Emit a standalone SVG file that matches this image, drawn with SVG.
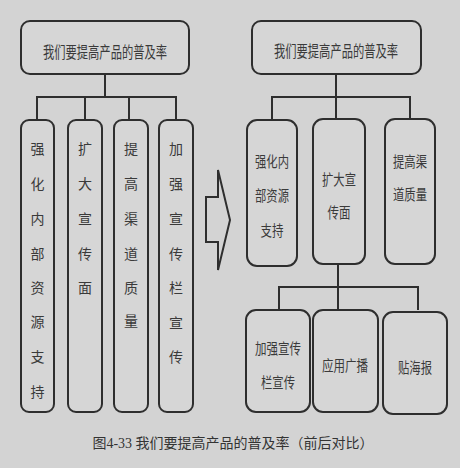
<svg xmlns="http://www.w3.org/2000/svg" width="460" height="468" viewBox="0 0 460 468">
<style>
.bx{fill:#d6d6d6;stroke:#2e2e2e;stroke-width:2}
.ln{fill:none;stroke:#2e2e2e;stroke-width:2}
.t{font-family:"Noto Sans CJK SC","Noto Sans",sans-serif;font-size:14px;fill:#3a3a3a;text-anchor:middle;dominant-baseline:central}
.tt{font-size:16px}
.r{font-size:15px}
.cap{font-family:"Liberation Serif","Noto Sans CJK SC",serif;font-size:14px;fill:#333;text-anchor:middle;dominant-baseline:central}
</style>
<rect width="460" height="468" fill="#d3d3d3"/>
<g id="connectors">
<path class="ln" d="M105 74V97M37 119V97H176V119M85 97V119M129 97V119"/>
<path class="ln" d="M336 74V119M272 119V97H410V119"/>
<path class="ln" d="M338 264V310M279 310V287H418V310"/>
</g>
<g id="arrow">
<path class="ln" d="M206 197H218V170L230 220L218 270V242H206Z"/>
</g>
<g id="l-top">
<rect class="bx" x="21" y="21" width="168" height="53" rx="9"/>
<text class="t tt" x="105" y="51" textLength="124" lengthAdjust="spacingAndGlyphs">我们要提高产品的普及率</text>
</g>
<g id="l-1">
<rect class="bx" x="21" y="120" width="33" height="292" rx="8"/>
<text class="t" x="37.5" y="148">强</text><text class="t" x="37.5" y="183">化</text><text class="t" x="37.5" y="218">内</text><text class="t" x="37.5" y="253">部</text><text class="t" x="37.5" y="287">资</text><text class="t" x="37.5" y="321">源</text><text class="t" x="37.5" y="356">支</text><text class="t" x="37.5" y="391">持</text>
</g>
<g id="l-2">
<rect class="bx" x="68" y="120" width="34" height="292" rx="8"/>
<text class="t" x="85" y="148">扩</text><text class="t" x="85" y="183">大</text><text class="t" x="85" y="218">宣</text><text class="t" x="85" y="253">传</text><text class="t" x="85" y="287">面</text>
</g>
<g id="l-3">
<rect class="bx" x="114" y="120" width="34" height="292" rx="8"/>
<text class="t" x="131" y="148">提</text><text class="t" x="131" y="183">高</text><text class="t" x="131" y="218">渠</text><text class="t" x="131" y="253">道</text><text class="t" x="131" y="287">质</text><text class="t" x="131" y="320">量</text>
</g>
<g id="l-4">
<rect class="bx" x="159" y="120" width="34" height="292" rx="8"/>
<text class="t" x="176" y="148">加</text><text class="t" x="176" y="183">强</text><text class="t" x="176" y="218">宣</text><text class="t" x="176" y="253">传</text><text class="t" x="176" y="287">栏</text><text class="t" x="176" y="322">宣</text><text class="t" x="176" y="356">传</text>
</g>
<g id="r-top">
<rect class="bx" x="252" y="21" width="169" height="53" rx="9"/>
<text class="t tt" x="336" y="50" textLength="124" lengthAdjust="spacingAndGlyphs">我们要提高产品的普及率</text>
</g>
<g id="r-a">
<rect class="bx" x="247" y="120" width="50" height="146" rx="10"/>
<text class="t r" x="272" y="160" textLength="34" lengthAdjust="spacingAndGlyphs">强化内</text>
<text class="t r" x="272" y="194" textLength="34" lengthAdjust="spacingAndGlyphs">部资源</text>
<text class="t r" x="272" y="229" textLength="23" lengthAdjust="spacingAndGlyphs">支持</text>
</g>
<g id="r-b">
<rect class="bx" x="313" y="119" width="52" height="145" rx="10"/>
<text class="t r" x="339" y="178" textLength="34" lengthAdjust="spacingAndGlyphs">扩大宣</text>
<text class="t r" x="339" y="211" textLength="23" lengthAdjust="spacingAndGlyphs">传面</text>
</g>
<g id="r-c">
<rect class="bx" x="385" y="119" width="50" height="145" rx="10"/>
<text class="t r" x="410" y="160" textLength="34" lengthAdjust="spacingAndGlyphs">提高渠</text>
<text class="t r" x="410" y="193" textLength="34" lengthAdjust="spacingAndGlyphs">道质量</text>
</g>
<g id="r-d">
<rect class="bx" x="246" y="310" width="64" height="102" rx="10"/>
<text class="t r" x="278" y="347" textLength="46" lengthAdjust="spacingAndGlyphs">加强宣传</text>
<text class="t r" x="278" y="381" textLength="34" lengthAdjust="spacingAndGlyphs">栏宣传</text>
</g>
<g id="r-e">
<rect class="bx" x="313" y="310" width="65" height="102" rx="10"/>
<text class="t r" x="345" y="364" textLength="46" lengthAdjust="spacingAndGlyphs">应用广播</text>
</g>
<g id="r-f">
<rect class="bx" x="383" y="312" width="64" height="102" rx="10"/>
<text class="t r" x="415" y="366" textLength="34" lengthAdjust="spacingAndGlyphs">贴海报</text>
</g>
<text class="cap" x="233" y="443">图4-33 我们要提高产品的普及率（前后对比）</text>
</svg>
